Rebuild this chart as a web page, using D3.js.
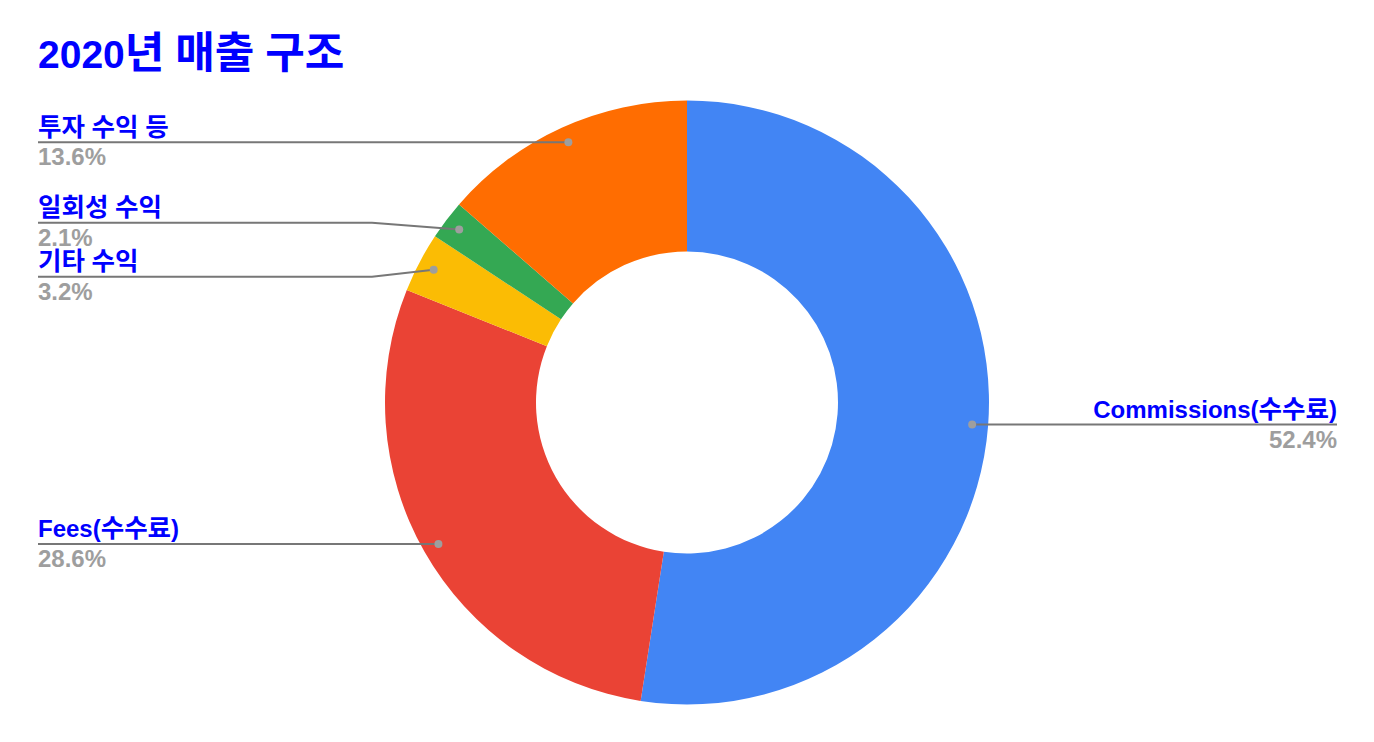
<!DOCTYPE html>
<html>
<head>
<meta charset="utf-8">
<script src="https://cdn.jsdelivr.net/npm/d3@7"></script>
<style>
  html, body { margin: 0; padding: 0; background: #fff; }
  svg { display: block; }
  text { font-family: "Liberation Sans", Arial, "Noto Sans CJK KR", sans-serif; font-weight: bold; }
</style>
</head>
<body>
<svg id="chart" width="1374" height="742"></svg>
<script>
const title = "2020년 매출 구조";
const categories = ["Commissions(수수료)", "Fees(수수료)", "기타 수익", "일회성 수익", "투자 수익 등"];
const values = [52.4, 28.6, 3.2, 2.1, 13.6];
const sliceColors = ["#4285F4", "#EA4335", "#FBBC04", "#34A853", "#FF6D01"];

const W = 1374, H = 742;
const cx = 687, cy = 402.5, R = 302, r0 = 151;
const dotR = 286;
const leftX = 38, rightX = 1337;
const minGap = 54;

const svg = d3.select("#chart");

// write text with Hangul runs in a slightly larger size
function mixedText(sel, str, latinSize, hangulSize) {
  const runs = str.match(/[\uAC00-\uD7A3]+|[^\uAC00-\uD7A3]+/g) || [];
  runs.forEach(run => {
    const isH = /[\uAC00-\uD7A3]/.test(run);
    sel.append("tspan")
      .style("font-size", (isH ? hangulSize : latinSize) + "px")
      .text(run);
  });
}

const t = svg.append("text")
  .attr("x", 38).attr("y", 68)
  .attr("fill", "#0000ff");
mixedText(t, title, 39, 43);

const data = categories.map((c, i) => ({ name: c, value: values[i], color: sliceColors[i] }));
const pie = d3.pie().sort(null).value(d => d.value);
const arcs = pie(data);
const arc = d3.arc().innerRadius(r0).outerRadius(R);

const g = svg.append("g").attr("transform", `translate(${cx},${cy})`);
g.selectAll("path").data(arcs).join("path")
  .attr("d", arc)
  .attr("fill", d => d.data.color);

// label layout
const labels = arcs.map(a => {
  const m = (a.startAngle + a.endAngle) / 2;
  const dx = cx + dotR * Math.sin(m), dy = cy - dotR * Math.cos(m);
  return { a, dx, dy, side: Math.sin(m) >= 0 ? "right" : "left", ly: dy };
});

["left", "right"].forEach(side => {
  const arr = labels.filter(l => l.side === side).sort((p, q) => p.ly - q.ly);
  for (let it = 0; it < 100; it++) {
    let moved = false;
    for (let i = 1; i < arr.length; i++) {
      const gap = arr[i].ly - arr[i - 1].ly;
      if (gap < minGap - 0.01) {
        const push = (minGap - gap) / 2;
        arr[i - 1].ly -= push;
        arr[i].ly += push;
        moved = true;
      }
    }
    if (!moved) break;
  }
});

const line = d3.line();
const lg = svg.append("g");
labels.forEach(l => {
  const left = l.side === "left";
  const tx = left ? leftX : rightX;
  const kneeX = left ? cx - R - 13 : cx + R + 13;
  const pts = [[tx, l.ly], [kneeX, l.ly], [l.dx, l.dy]];
  lg.append("path")
    .attr("d", line(pts))
    .attr("fill", "none")
    .attr("stroke", "#777777")
    .attr("stroke-width", 2);
});
labels.forEach(l => {
  lg.append("circle")
    .attr("cx", l.dx).attr("cy", l.dy).attr("r", 4)
    .attr("fill", "#9e9e9e");
});
labels.forEach(l => {
  const left = l.side === "left";
  const tx = left ? leftX : rightX;
  const anchor = left ? "start" : "end";
  const nt = lg.append("text")
    .attr("x", tx).attr("y", l.ly - 6.5)
    .attr("text-anchor", anchor)
    .attr("fill", "#0000ff");
  mixedText(nt, l.a.data.name, 24, 25.5);
  lg.append("text")
    .attr("x", tx).attr("y", l.ly + 23)
    .attr("text-anchor", anchor)
    .attr("fill", "#9e9e9e")
    .style("font-size", "24px")
    .text(l.a.data.value.toFixed(1) + "%");
});
</script>
</body>
</html>
